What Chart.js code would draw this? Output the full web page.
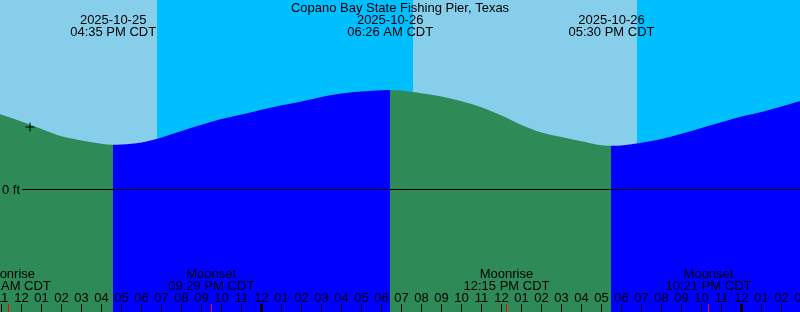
<!DOCTYPE html>
<html><head><meta charset="utf-8">
<script src="https://cdn.jsdelivr.net/npm/chart.js@4"></script>
<style>html,body{margin:0;padding:0;background:#fff;overflow:hidden}canvas{display:block}</style>
</head><body>
<canvas id="c" width="800" height="312"></canvas>
<script>
const chartTitle = "Copano Bay State Fishing Pier, Texas";
// hours counted from 2025-10-25 00:00 CDT
const tideHours = [10,11,12,13,14,15,16,17,18,19,20,21,22,23,24,25,26,27,28,29,30,31,32,33,34,35,36,37,38,39,40,41,42,43,44,45,46,47,48,49,50,51];
const tideHeights = [0.80,0.742,0.675,0.60,0.527,0.485,0.452,0.445,0.465,0.515,0.58,0.643,0.70,0.745,0.793,0.837,0.876,0.92,0.955,0.975,0.988,0.984,0.958,0.925,0.877,0.817,0.734,0.64,0.565,0.52,0.478,0.438,0.435,0.463,0.50,0.552,0.61,0.667,0.725,0.77,0.825,0.885];
const extremeHours = [16.583, 30.433, 41.5];
const extremeHeights = [0.443, 0.99, 0.432];
const extremeDates = ["2025-10-25", "2025-10-26", "2025-10-26"];
const extremeTimes = ["04:35 PM CDT", "06:26 AM CDT", "05:30 PM CDT"];
const moonHours = [11.34, 21.483, 36.25, 46.35];
const moonNames = ["Moonrise", "Moonset", "Moonrise", "Moonset"];
const moonTimes = ["11:20 AM CDT", "09:29 PM CDT", "12:15 PM CDT", "10:21 PM CDT"];
const sunHours = [18.775, 31.575, 42.775]; // sunset, sunrise, sunset
const tickHours = [11,12,13,14,15,16,17,18,19,20,21,22,23,24,25,26,27,28,29,30,31,32,33,34,35,36,37,38,39,40,41,42,43,44,45,46,47,48,49,50,51];
const tickLabels = ["11","12","01","02","03","04","05","06","07","08","09","10","11","12","01","02","03","04","05","06","07","08","09","10","11","12","01","02","03","04","05","06","07","08","09","10","11","12","01","02","03"];
const midnightHours = [24, 48];
const markHours = [12.425];
const markHeights = [0.62];
const datumLabel = "0 ft";

const COL_DAY = '#87CEEB', COL_NIGHT = '#00BFFF', COL_FALL = '#2E8B57', COL_RISE = '#0000FF';
const FONT = '13px "Liberation Sans", Arial, sans-serif';

// merge hourly samples with extremes
const pts = tideHours.map((h, i) => ({x: h, y: tideHeights[i]}));
extremeHours.forEach((h, i) => pts.push({x: h, y: extremeHeights[i]}));
pts.sort((a, b) => a.x - b.x);

// fill colour: falling (green) vs rising (blue), switching at each extreme
function tideFill(c) {
  const chart = c.chart;
  const area = chart.chartArea;
  if (!area) return COL_FALL;
  const x = chart.scales.x;
  const g = chart.ctx.createLinearGradient(area.left, 0, area.right, 0);
  const w = area.right - area.left;
  let col = extremeHeights[0] < extremeHeights[1] ? COL_FALL : COL_RISE;
  g.addColorStop(0, col);
  extremeHours.forEach((h, i) => {
    const f = Math.min(1, Math.max(0, (x.getPixelForValue(h) - area.left) / w));
    g.addColorStop(f, col);
    col = col === COL_FALL ? COL_RISE : COL_FALL;
    g.addColorStop(f, col);
  });
  g.addColorStop(1, col);
  return g;
}

const datasets = [
  {
    type: 'scatter', data: markHours.map((h, i) => ({x: h, y: markHeights[i]})),
    pointStyle: 'cross', pointRadius: 4.5, borderWidth: 1, borderColor: '#000', backgroundColor: '#000'
  },
  {
    type: 'line', data: pts, fill: 'start', borderWidth: 0, pointRadius: 0,
    backgroundColor: tideFill, borderColor: 'rgba(0,0,0,0)',
    cubicInterpolationMode: 'monotone'
  }
];

const skyPlugin = {
  id: 'sky',
  beforeDatasetsDraw(chart) {
    const {ctx, chartArea: a, scales: {x}} = chart;
    const edges = [a.left, ...sunHours.map(h => x.getPixelForValue(h)), a.right];
    ctx.save();
    for (let i = 0; i < edges.length - 1; i++) {
      ctx.fillStyle = i % 2 === 0 ? COL_DAY : COL_NIGHT;
      const x0 = Math.round(edges[i]), x1 = Math.round(edges[i + 1]);
      ctx.fillRect(x0, a.top, x1 - x0, a.bottom - a.top);
    }
    ctx.restore();
  }
};

const decorPlugin = {
  id: 'decor',
  afterDatasetsDraw(chart) {
    const {ctx, chartArea: a, scales: {x, y}} = chart;
    ctx.save();
    ctx.fillStyle = '#000';
    ctx.font = FONT;
    // zero line
    const y0 = Math.floor(y.getPixelForValue(0));
    ctx.fillRect(22, y0, a.right - 22, 1);
    ctx.textAlign = 'left';
    ctx.textBaseline = 'alphabetic';
    ctx.fillText(datumLabel, 2, y0 + 5);
    // title
    ctx.textAlign = 'center';
    ctx.fillText(chartTitle, (a.left + a.right) / 2, 12);
    // tide extremes
    extremeHours.forEach((h, i) => {
      const px = x.getPixelForValue(h);
      ctx.fillText(extremeDates[i], px, 24);
      ctx.fillText(extremeTimes[i], px, 36);
    });
    // moon events
    moonHours.forEach((h, i) => {
      const px = x.getPixelForValue(h);
      ctx.fillText(moonNames[i], px, 278);
      ctx.fillText(moonTimes[i], px, 290);
    });
    // hour ticks
    tickHours.forEach((h, i) => {
      const px = x.getPixelForValue(h);
      ctx.fillText(tickLabels[i], px, 302);
      if (midnightHours.includes(h)) ctx.fillRect(px - 1.5, 304, 3, 8);
      else ctx.fillRect(Math.floor(px), 304, 1, 8);
    });
    ctx.fillStyle = '#FF0000';
    moonHours.forEach(h => {
      const px = x.getPixelForValue(h);
      ctx.fillRect(Math.floor(px), 304, 1, 8);
    });
    ctx.restore();
  }
};

new Chart(document.getElementById('c'), {
  data: {datasets},
  options: {
    responsive: false, animation: false, devicePixelRatio: 1,
    layout: {padding: 0, autoPadding: false},
    plugins: {legend: {display: false}, tooltip: {enabled: false}, title: {display: false}},
    scales: {
      x: {type: 'linear', min: 10.925, max: 50.925, display: false},
      y: {type: 'linear', min: -1.23, max: 1.89, display: false}
    }
  },
  plugins: [skyPlugin, decorPlugin]
});
</script>
</body></html>
